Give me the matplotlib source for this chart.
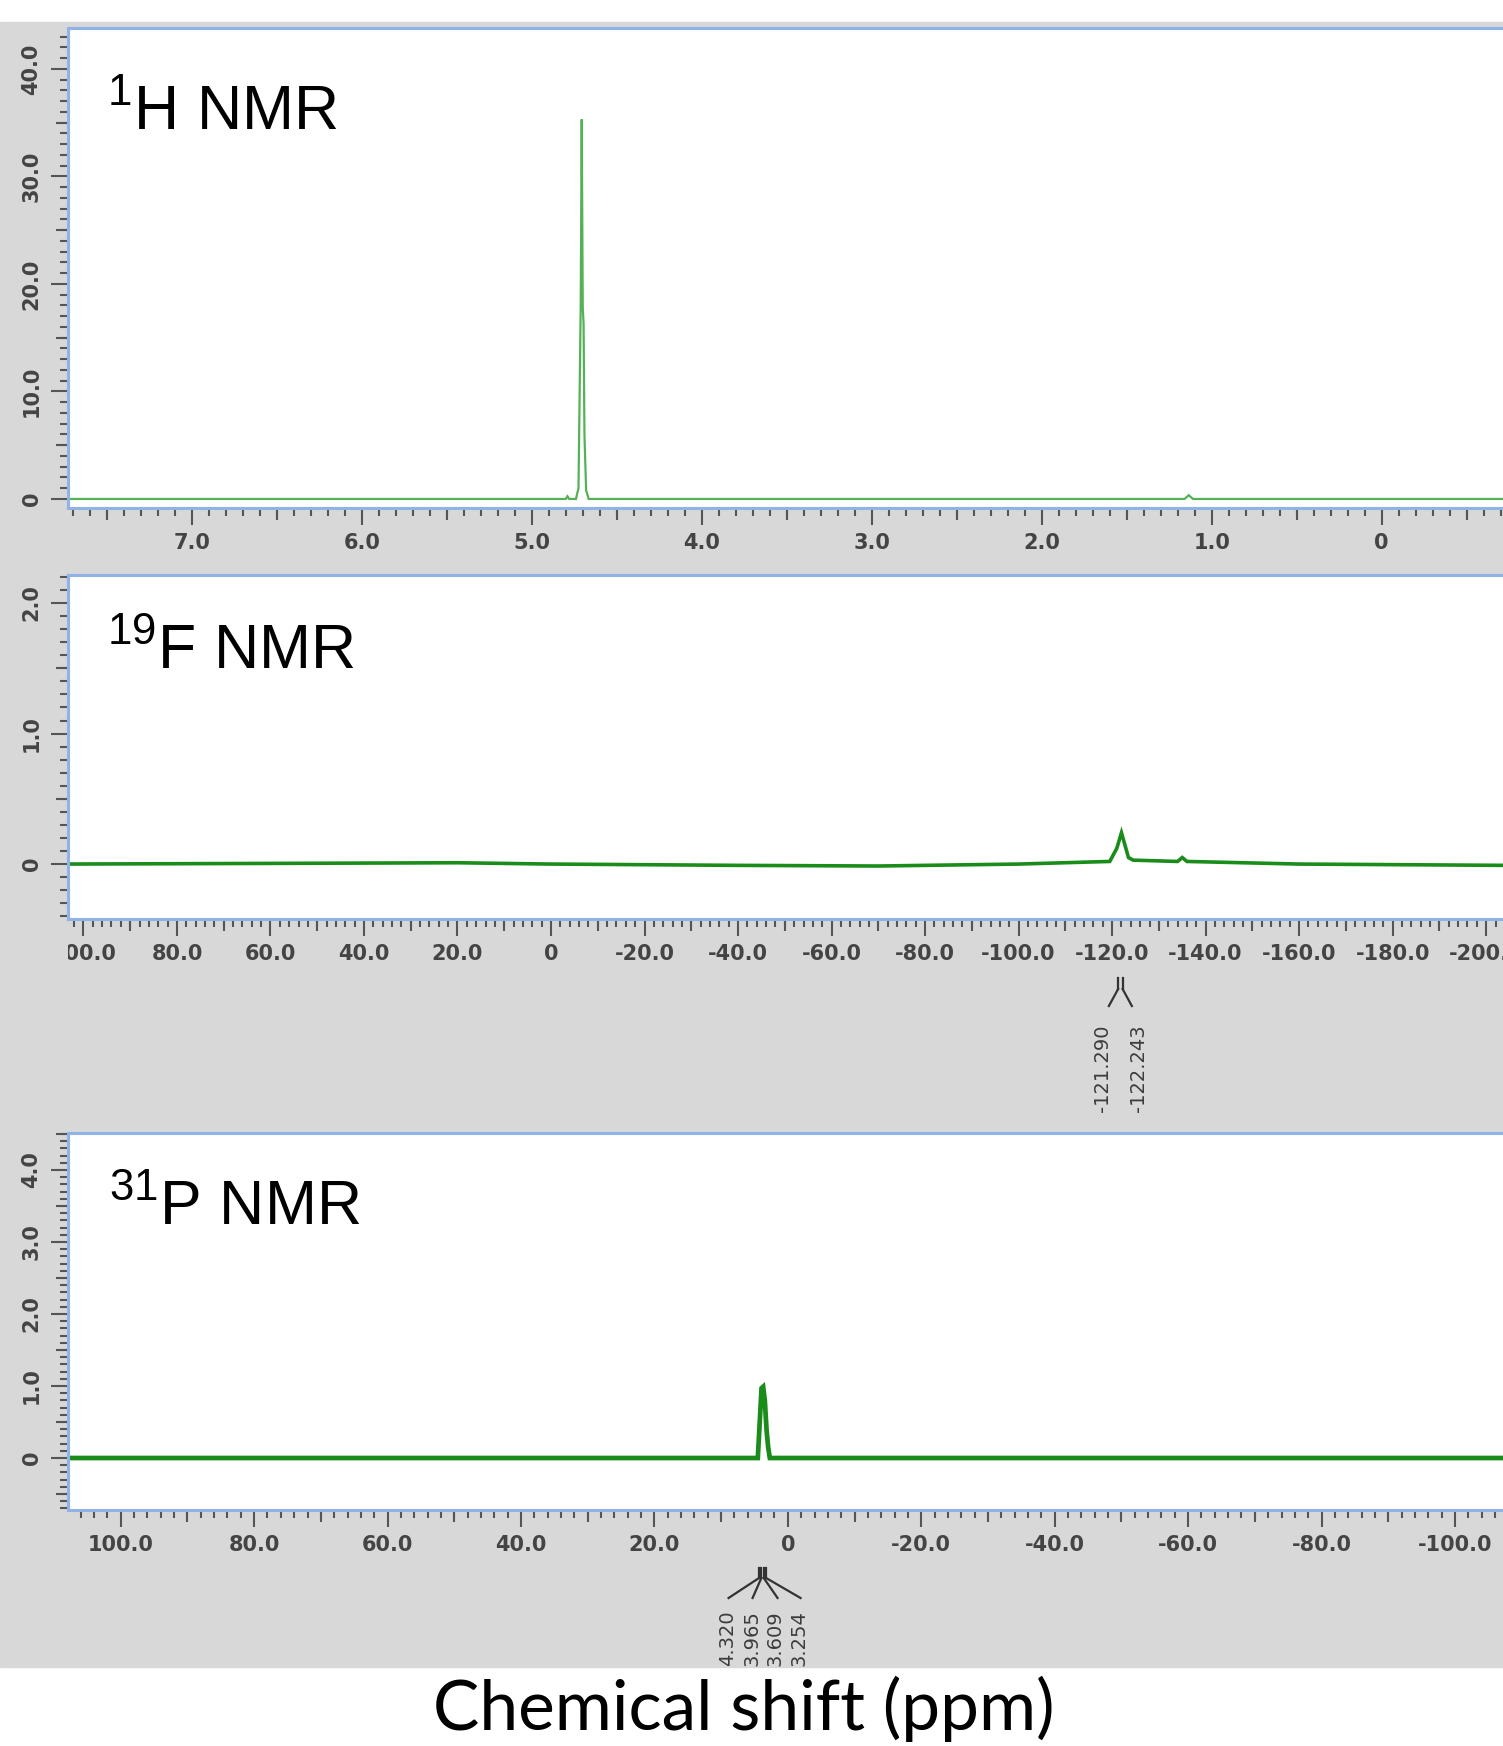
import numpy as np
import matplotlib
matplotlib.use("Agg")
import matplotlib.pyplot as plt
from matplotlib.lines import Line2D
from matplotlib.patches import Rectangle
from matplotlib.ticker import MultipleLocator, FuncFormatter
from matplotlib.transforms import Bbox, TransformedBbox

plt.rcParams['mathtext.fontset'] = 'custom'
plt.rcParams['mathtext.rm'] = 'Liberation Sans'

# spectra: (ppm, intensity) vertices
h_ppm = [7.73, 4.80, 4.79, 4.78, 4.74, 4.725, 4.712, 4.706, 4.700, 4.695,
         4.690, 4.680, 4.665, 1.16, 1.135, 1.11, -0.72]
h_int = [0.0, 0.0, 0.25, 0.0, 0.0, 1.0, 18.0, 35.3, 17.8, 16.3,
         6.0, 0.8, 0.0, 0.0, 0.35, 0.0, 0.0]

f_ppm = [104, 60, 20, 0, -40, -70, -100, -119.5, -121.0, -122.0, -123.5,
         -124.5, -134, -135, -136, -160, -204]
f_int = [0.0, 0.005, 0.01, 0.0, -0.01, -0.015, 0.0, 0.02, 0.12, 0.24, 0.05,
         0.03, 0.02, 0.05, 0.02, 0.0, -0.01]

p_ppm = [108, 60, 20, 4.5, 3.94, 3.70, 3.45, 3.19, 2.95, 2.70, -40, -108]
p_int = [0.0, 0.0, 0.0, 0.0, 0.97, 0.99, 0.8, 0.39, 0.15, 0.0, 0.0, 0.0]

f_peaks = [-121.290, -122.243]
p_peaks = [4.320, 3.965, 3.609, 3.254]

W, H = 1503, 1746
fig = plt.figure(figsize=(W / 100, H / 100), dpi=100)

GRAY = '#d8d8d8'
BLUE = '#8fb3e6'
TICK = '#555555'

def px_rect(left, top, right, bottom):
    return [left / W, 1 - bottom / H, (right - left) / W, (bottom - top) / H]

# gray window background
fig.add_artist(Rectangle((0, 1 - 1667 / H), 1, (1667 - 22) / H,
                         transform=fig.transFigure, color=GRAY, zorder=0))
gray_box = TransformedBbox(Bbox([[0, 1 - 1667 / H], [1, 1 - 22 / H]]), fig.transFigure)
label_box = TransformedBbox(Bbox([[68 / W, 0], [1, 1]]), fig.transFigure)

def fmt(v, pos=None):
    return '0' if abs(v) < 1e-9 else f'{v:.1f}'

panels = [
    dict(rect=(68, 28, 1503, 508), xlim=(7.728, -0.7135), ylim=(-0.84, 43.8),
         xticks=np.arange(0, 8, 1.0), xmed=np.arange(-0.5, 8, 1.0), xmin=0.1,
         ymaj=10, ymed=np.arange(5, 45, 10), ymin=1,
         x=h_ppm, y=h_int, color='#55b155', lw=1.6,
         title=r'$\mathregular{^{1}}$H NMR', tpos=(107, 129)),
    dict(rect=(68, 575, 1503, 919), xlim=(103.3, -203.6), ylim=(-0.421, 2.215),
         xticks=np.arange(-200, 101, 20), xmed=np.arange(-210, 101, 20), xmin=2,
         ymaj=1, ymed=np.arange(-0.5, 2.6, 1.0), ymin=0.1,
         x=f_ppm, y=f_int, color='#1a8c1a', lw=2.6,
         title=r'$\mathregular{^{19}}$F NMR', tpos=(107, 669)),
    dict(rect=(68, 1133, 1503, 1510), xlim=(107.9, -107.2), ylim=(-0.722, 4.514),
         xticks=np.arange(-100, 101, 20), xmed=np.arange(-110, 111, 20), xmin=2,
         ymaj=1, ymed=np.arange(-0.5, 4.6, 1.0), ymin=0.1,
         x=p_ppm, y=p_int, color='#1a8c1a', lw=3.4,
         title=r'$\mathregular{^{31}}$P NMR', tpos=(109, 1225)),
]

axes = []
for p in panels:
    ax = fig.add_axes(px_rect(*p['rect']))
    ax.set_facecolor('white')
    ax.plot(p['x'], p['y'], color=p['color'], lw=p['lw'], solid_joinstyle='miter')
    ax.set_xlim(*p['xlim'])
    ax.set_ylim(*p['ylim'])
    for s in ['left', 'top', 'bottom']:
        ax.spines[s].set_color(BLUE)
        ax.spines[s].set_linewidth(2.2)
    ax.spines['right'].set_visible(False)

    ax.set_xticks(p['xticks'])
    ax.xaxis.set_major_formatter(FuncFormatter(fmt))
    ax.xaxis.set_minor_locator(MultipleLocator(p['xmin']))
    ax.yaxis.set_major_locator(MultipleLocator(p['ymaj']))
    ax.yaxis.set_major_formatter(FuncFormatter(fmt))
    ax.yaxis.set_minor_locator(MultipleLocator(p['ymin']))
    ax.tick_params(which='major', direction='out', length=12, width=1.5, color=TICK,
                   labelcolor='#444444', labelsize=15, pad=6)
    ax.tick_params(which='minor', direction='out', length=5.5, width=1.5, color=TICK)
    ax.tick_params(axis='y', which='major', labelrotation=90, pad=7)
    for lab in ax.get_xticklabels():
        lab.set_fontweight('bold')
        lab.set_clip_box(label_box)
    for lab in ax.get_yticklabels():
        lab.set_fontweight('bold')
        lab.set_verticalalignment('center')

    # medium ticks
    sx = ax.secondary_xaxis('bottom')
    sx.set_ticks(p['xmed'])
    sx.tick_params(length=8.5, width=1.5, color=TICK, labelbottom=False)
    sx.spines['bottom'].set_visible(False)
    sy = ax.secondary_yaxis('left')
    sy.set_ticks(p['ymed'])
    sy.tick_params(length=8.5, width=1.5, color=TICK, labelleft=False)
    sy.spines['left'].set_visible(False)

    tx, ty = p['tpos']
    fig.text(tx / W, 1 - ty / H, p['title'], fontsize=45, family='Liberation Sans',
             va='baseline', ha='left', color='black')
    axes.append(ax)


def mark_peaks(ax, peaks, text_off, fan_off, y0, y1, y2, y3):
    xs = [ax.transData.transform((v, 0))[0] for v in peaks]
    c = np.mean(xs)
    for x, to, fo, v in zip(xs, text_off, fan_off, peaks):
        fig.add_artist(Line2D([x / W, x / W], [1 - y0 / H, 1 - y1 / H],
                              transform=fig.transFigure, color='#333333', lw=1.6))
        fig.add_artist(Line2D([x / W, (c + fo) / W], [1 - y1 / H, 1 - y2 / H],
                              transform=fig.transFigure, color='#333333', lw=1.6))
        t = fig.text((c + to) / W, 1 - y3 / H, f'{v:.3f}', rotation=90,
                     ha='center', va='top', fontsize=14, color='#3c3c3c')
        t.set_clip_box(gray_box)


mark_peaks(axes[1], f_peaks, [-18, 18], [-11.5, 11.5], 978, 989, 1006, 1024)
mark_peaks(axes[2], p_peaks, [-35, -11, 12, 36], [-34, -10, 15, 38], 1568, 1578, 1598, 1610)

fig.text(744 / W, 1 - 1730 / H, 'Chemical shift (ppm)', ha='center', va='baseline',
         fontsize=50, family='Lato', color='black')

fig.savefig('out.png', dpi=100)
